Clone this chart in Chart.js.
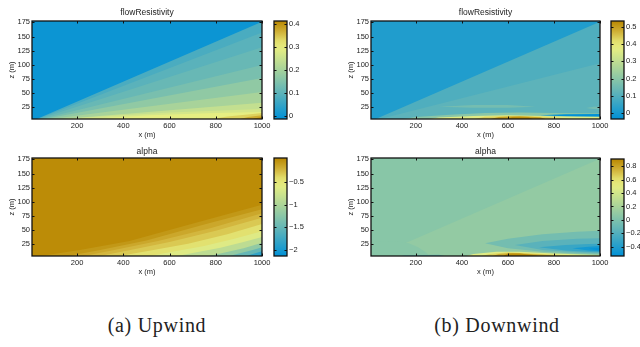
<!DOCTYPE html>
<html>
<head>
<meta charset="utf-8">
<script src="https://cdn.jsdelivr.net/npm/chart.js@4.4.1/dist/chart.umd.min.js"></script>
<style>
  body { margin: 0; background: #fff; }
  #page { position: relative; width: 640px; height: 347px; overflow: hidden; background: #fff; }
  canvas { position: absolute; }
  .cap { position: absolute; top: 314px; width: 240px; line-height: 22px; text-align: center;
         font-family: "Liberation Serif", serif; font-size: 20px; letter-spacing: 0.7px; color: #222; }
</style>
</head>
<body>
<div id="page">
  <canvas id="upFlow" width="294" height="140" style="left:0px;top:0px"></canvas>
  <canvas id="upFlowBar" width="43" height="140" style="left:270px;top:0px"></canvas>
  <canvas id="downFlow" width="293" height="140" style="left:339px;top:0px"></canvas>
  <canvas id="downFlowBar" width="43" height="140" style="left:607px;top:0px"></canvas>
  <canvas id="upAlpha" width="294" height="139" style="left:0px;top:138px"></canvas>
  <canvas id="upAlphaBar" width="43" height="140" style="left:270px;top:137px"></canvas>
  <canvas id="downAlpha" width="293" height="139" style="left:339px;top:138px"></canvas>
  <canvas id="downAlphaBar" width="43" height="139" style="left:607px;top:138px"></canvas>
  <div class="cap" style="left:37px">(a) Upwind</div>
  <div class="cap" style="left:377px">(b) Downwind</div>
</div>
<script>
// axes shared by the four fields
const xTicks = [200, 400, 600, 800, 1000];
const zTicks = [25, 50, 75, 100, 125, 150, 175];
const xLimits = [5, 1000];
const zLimits = [4.5, 177.5];

// (a) upwind, flowResistivity: each region = boundary curve [x, z], filled down to ground
const upFlowRange = [-0.014, 0.414];
const upFlowBarTicks = [0, 0.1, 0.2, 0.3, 0.4];
const upFlowValues = [0, 0.076, 0.095, 0.114, 0.138, 0.17, 0.204, 0.243, 0.268, 0.294, 0.337, 0.371, 0.405];
const upFlowUpper = [
  [[0, 180], [1000, 180]],
  [[0, 0], [1000, 176]],
  [[0, 0], [1000, 157]],
  [[0, 0], [1000, 131]],
  [[0, 0], [1000, 100]],
  [[0, 0], [1000, 77]],
  [[0, 0], [1000, 52]],
  [[0, 0], [1000, 33]],
  [[0, 0], [300, 9], [600, 16], [1000, 22]],
  [[100, 0], [300, 6], [513, 11], [800, 15], [1000, 17]],
  [[720, 0], [850, 9], [950, 13], [1000, 15]],
  [[860, 0], [940, 8], [1000, 11]],
  [[930, 0], [970, 6], [1000, 8]]
];

// (a) upwind, alpha
const upAlphaRange = [-2.14, 0.03];
const upAlphaBarTicks = [-2, -1.5, -1, -0.5];
const upAlphaValues = [0, -0.068, -0.155, -0.24, -0.32, -0.45, -0.64, -0.88, -1.19, -1.51, -1.84, -2.07];
const upAlphaUpper = [
  [[0, 180], [1000, 180]],
  [[0, 2], [212, 15], [427, 31], [714, 63], [1000, 95]],
  [[100, 0], [300, 15], [500, 32], [750, 60], [1000, 87]],
  [[170, 0], [350, 14], [550, 31], [780, 54], [1000, 80]],
  [[240, 0], [420, 14], [600, 29], [800, 49], [1000, 72]],
  [[320, 0], [500, 13], [680, 26], [850, 43], [1000, 61]],
  [[450, 0], [600, 11], [750, 22], [880, 35], [1000, 48]],
  [[580, 0], [700, 10], [820, 19], [920, 29], [1000, 38]],
  [[720, 0], [820, 9], [920, 18], [1000, 28]],
  [[820, 0], [900, 9], [960, 15], [1000, 20]],
  [[900, 0], [960, 8], [1000, 13]],
  [[960, 0], [1000, 7]]
];

// (b) downwind, flowResistivity (regions with a lower curve are filled between the two)
const downFlowRange = [-0.033, 0.533];
const downFlowBarTicks = [0, 0.1, 0.2, 0.3, 0.4, 0.5];
const downFlowValues = [0.018, 0.094, 0.117, 0.16, 0.16, 0.2, -0.033, 0.363, 0.431, 0.493, 0.53];
const downFlowUpper = [
  [[0, 180], [1000, 180]],
  [[0, 0], [1000, 176]],
  [[0, 0], [1000, 103]],
  [[300, 26], [450, 29], [600, 29], [720, 26]],
  [[940, 24], [970, 26], [1000, 26.5]],
  [[80, 0], [200, 8], [350, 12], [500, 15], [650, 16], [800, 15], [1000, 14]],
  [[740, 11], [850, 13], [1000, 13.5]],
  [[180, 0], [300, 7], [450, 10], [600, 11], [750, 10], [900, 8.5], [1000, 8]],
  [[400, 0], [500, 8.5], [620, 10], [750, 8.5], [850, 6], [950, 0]],
  [[480, 0], [560, 8], [650, 9.5], [740, 7.5], [800, 0]],
  [[560, 0], [620, 7.5], [690, 7], [740, 0]]
];
const downFlowLower = [
  null, null, null,
  [[300, 26], [450, 24.5], [600, 24.5], [720, 26]],
  [[940, 24], [970, 22], [1000, 21.5]],
  null,
  [[740, 11], [850, 9.5], [1000, 9]],
  null, null, null, null
];

// (b) downwind, alpha
const downAlphaRange = [-0.54, 0.91];
const downAlphaBarTicks = [-0.4, -0.2, 0, 0.2, 0.4, 0.6, 0.8];
const downAlphaValues = [0.047, 0.098, 0.047, -0.134, -0.047, -0.17, -0.308, -0.453, -0.52, 0.475, 0.65, 0.765, 0.88];
const downAlphaUpper = [
  [[0, 180], [1000, 180]],
  [[0, 0], [1000, 176]],
  [[0, 31], [120, 30], [170, 27], [210, 20], [240, 12], [260, 4], [270, 0]],
  [[100, 0], [150, 6], [300, 6.5], [380, 0]],
  [[500, 27], [600, 35], [750, 43], [900, 47.5], [1000, 49]],
  [[630, 24], [750, 31], [900, 35], [1000, 36]],
  [[735, 20], [850, 24], [950, 25.5], [1000, 26]],
  [[880, 18], [950, 21], [1000, 22]],
  [[950, 17.5], [1000, 19]],
  [[380, 0], [450, 8], [550, 12], [650, 12], [800, 9], [950, 6.5], [1000, 6]],
  [[440, 0], [520, 8], [600, 10.5], [700, 9], [850, 6], [950, 0]],
  [[500, 0], [560, 8], [620, 10], [700, 8], [800, 5.5], [880, 0]],
  [[560, 0], [600, 9], [650, 9], [720, 6], [770, 0]]
];
const downAlphaLower = [
  null, null, null, null,
  [[500, 27], [600, 18], [750, 12], [900, 9], [1000, 8]],
  [[630, 24], [750, 15], [900, 11], [1000, 10]],
  [[735, 20], [850, 14], [950, 12], [1000, 11.5]],
  [[880, 18], [950, 14], [1000, 13]],
  [[950, 17.5], [1000, 14]],
  null, null, null, null
];

// colour map (blue -> teal -> pale yellow -> brown)
const cmap = [
  [0, [0, 145, 215]], [0.27, [95, 180, 185]], [0.5, [165, 210, 155]],
  [0.72, [230, 238, 130]], [0.8, [225, 220, 105]], [0.88, [210, 180, 60]], [1, [185, 135, 0]]
];
function colourAt(t) {
  t = Math.max(0, Math.min(1, t));
  for (let i = 1; i < cmap.length; i++) {
    if (t <= cmap[i][0]) {
      const [t0, c0] = cmap[i - 1], [t1, c1] = cmap[i];
      const f = (t - t0) / (t1 - t0);
      return 'rgb(' + c0.map((c, k) => Math.round(c + (c1[k] - c) * f)).join(',') + ')';
    }
  }
  return 'rgb(' + cmap[cmap.length - 1][1].join(',') + ')';
}
const colourFor = (v, range) => colourAt((v - range[0]) / (range[1] - range[0]));

const FONT = 'Liberation Sans, Arial, sans-serif';
const INK = '#222';
const minus = v => String(v).replace('-', '\u2212');

// black frame + MATLAB style inward ticks
const framePlugin = {
  id: 'frame',
  afterDraw(chart, args, opts) {
    const {ctx, chartArea: a} = chart;
    ctx.save();
    ctx.strokeStyle = '#111';
    ctx.lineWidth = 1;
    ctx.beginPath();
    if (opts.xTicks) {
      chart.scales.x.ticks.forEach(t => {
        const p = Math.round(chart.scales.x.getPixelForValue(t.value)) + 0.5;
        ctx.moveTo(p, a.bottom); ctx.lineTo(p, a.bottom - 2.5);
        ctx.moveTo(p, a.top); ctx.lineTo(p, a.top + 2.5);
      });
    }
    chart.scales.y.ticks.forEach(t => {
      const p = Math.round(chart.scales.y.getPixelForValue(t.value)) + 0.5;
      ctx.moveTo(a.left, p); ctx.lineTo(a.left + 2.5, p);
      ctx.moveTo(a.right, p); ctx.lineTo(a.right - 2.5, p);
    });
    ctx.stroke();
    ctx.lineWidth = 1.3;
    ctx.strokeRect(a.left, a.top, a.right - a.left, a.bottom - a.top);
    ctx.restore();
  }
};

function lineSet(pts, colour, fill) {
  return {
    data: pts.map(([x, z]) => ({x: x, y: z})),
    yAxisID: 'y', showLine: true, fill: fill, tension: 0,
    backgroundColor: colour, borderColor: 'rgba(0,0,0,0)', borderWidth: 0, pointRadius: 0
  };
}

function drawField(id, title, values, upper, lower, range, titlePad) {
  const datasets = [];
  values.forEach((v, i) => {
    let fill = 'start';
    if (lower && lower[i]) {
      datasets.push(lineSet(lower[i], 'rgba(0,0,0,0)', false));
      fill = datasets.length - 1;
    }
    datasets.push(lineSet(upper[i], colourFor(v, range), fill));
  });
  // later regions are painted on top
  datasets.forEach((d, i) => { d.order = datasets.length - i; });

  const tickFont = {family: FONT, size: 7.5};
  return new Chart(document.getElementById(id), {
    type: 'scatter',
    data: {datasets: datasets},
    options: {
      animation: false, responsive: false, events: [],
      layout: {padding: 0},
      plugins: {
        legend: {display: false}, tooltip: {enabled: false},
        title: {display: true, text: title, color: INK, padding: titlePad,
                font: {family: FONT, size: 8.5, weight: 'normal'}},
        frame: {xTicks: true}
      },
      scales: {
        x: {
          type: 'linear', min: xLimits[0], max: xLimits[1],
          afterBuildTicks: s => { s.ticks = xTicks.map(v => ({value: v})); },
          grid: {display: false, drawTicks: false}, border: {display: false},
          ticks: {font: tickFont, color: INK, padding: 2, maxRotation: 0, autoSkip: false, callback: v => String(v)},
          title: {display: true, text: 'x (m)', color: INK, font: tickFont, padding: {top: 0, bottom: 0.5}},
          afterFit: s => { s.height = 21; }
        },
        y: {
          type: 'linear', position: 'left', min: zLimits[0], max: zLimits[1],
          afterBuildTicks: s => { s.ticks = zTicks.map(v => ({value: v})); },
          grid: {display: false, drawTicks: false}, border: {display: false},
          ticks: {font: tickFont, color: INK, padding: 2, autoSkip: false, callback: v => String(v)},
          title: {display: true, text: 'z (m)', color: INK, font: tickFont, padding: {top: 7.7, bottom: 0}},
          afterFit: s => { s.width = 32; }
        },
        y2: {
          type: 'linear', position: 'right',
          grid: {display: false, drawTicks: false}, border: {display: false}, ticks: {display: false},
          afterFit: s => { s.width = 32; }
        }
      }
    },
    plugins: [framePlugin]
  });
}

function drawColourBar(id, range, ticks) {
  return new Chart(document.getElementById(id), {
    type: 'bar',
    data: {
      labels: [''],
      datasets: [{
        data: [[range[0], range[1]]],
        barPercentage: 1, categoryPercentage: 1, borderWidth: 0,
        backgroundColor: c => {
          const a = c.chart.chartArea;
          if (!a) return 'rgba(0,0,0,0)';
          const g = c.chart.ctx.createLinearGradient(0, a.bottom, 0, a.top);
          for (let i = 0; i <= 20; i++) g.addColorStop(i / 20, colourAt(i / 20));
          return g;
        }
      }]
    },
    options: {
      animation: false, responsive: false, events: [],
      layout: {padding: {left: 4, right: 0, top: 21, bottom: 21}},
      plugins: {legend: {display: false}, tooltip: {enabled: false}, frame: {xTicks: false}},
      scales: {
        x: {display: false},
        y: {
          position: 'right', min: range[0], max: range[1],
          afterBuildTicks: s => { s.ticks = ticks.map(v => ({value: v})); },
          grid: {display: false, drawTicks: false}, border: {display: false},
          ticks: {font: {family: FONT, size: 7.5}, color: INK, padding: 2, autoSkip: false, callback: v => minus(v)},
          afterFit: s => { s.width = 26; }
        }
      }
    },
    plugins: [framePlugin]
  });
}

drawField('upFlow', 'flowResistivity', upFlowValues, upFlowUpper, null, upFlowRange, {top: 7.4, bottom: 3.4});
drawField('upAlpha', 'alpha', upAlphaValues, upAlphaUpper, null, upAlphaRange, {top: 8.6, bottom: 1.2});
drawField('downFlow', 'flowResistivity', downFlowValues, downFlowUpper, downFlowLower, downFlowRange, {top: 7.4, bottom: 3.4});
drawField('downAlpha', 'alpha', downAlphaValues, downAlphaUpper, downAlphaLower, downAlphaRange, {top: 8.6, bottom: 1.2});
drawColourBar('upFlowBar', upFlowRange, upFlowBarTicks);
drawColourBar('upAlphaBar', upAlphaRange, upAlphaBarTicks);
drawColourBar('downFlowBar', downFlowRange, downFlowBarTicks);
drawColourBar('downAlphaBar', downAlphaRange, downAlphaBarTicks);
</script>
</body>
</html>
